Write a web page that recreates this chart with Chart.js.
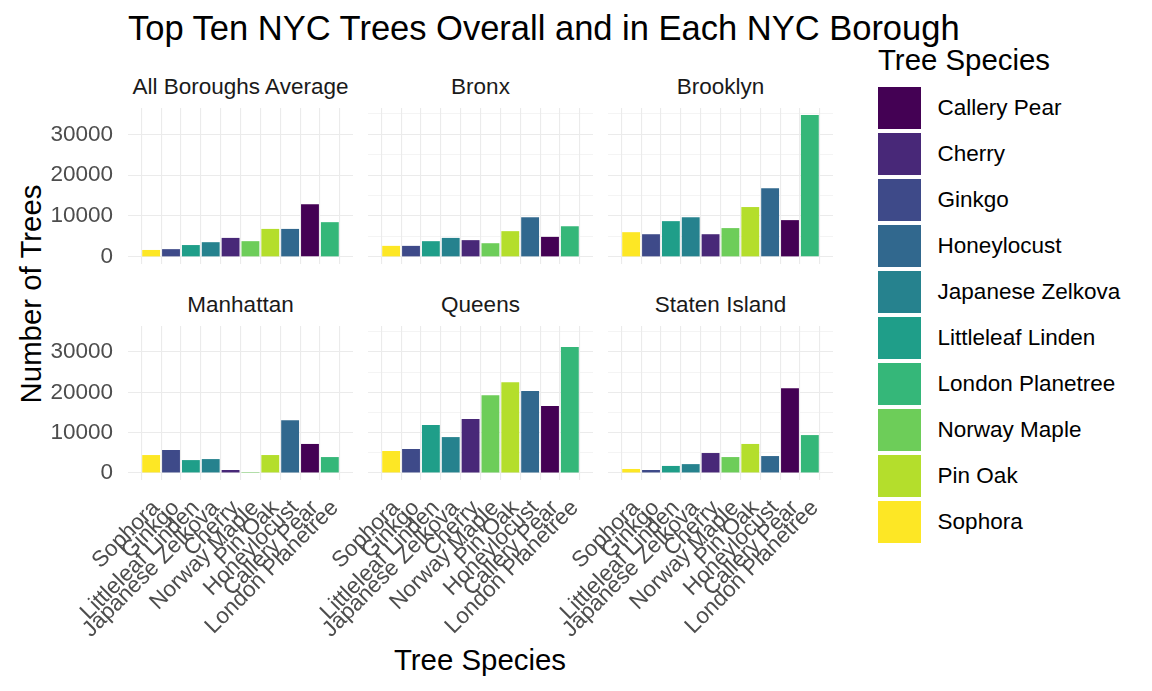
<!DOCTYPE html>
<html>
<head>
<meta charset="utf-8">
<script src="https://cdn.jsdelivr.net/npm/chart.js@4.4.1/dist/chart.umd.min.js"></script>
<style>
  body { margin:0; width:1152px; height:691px; background:#fff; position:relative; overflow:hidden;
    font-family:"Liberation Sans", Arial, sans-serif; }
  canvas { position:absolute; }
  .txt { position:absolute; white-space:nowrap; line-height:1; }
  .strip { font-size:22.5px; color:#1A1A1A; transform:translate(-50%,-50%); }
  .sw { position:absolute; width:43px; height:41.5px; }
  .lg { font-size:22.5px; color:#000; transform:translateY(-50%); }
</style>
</head>
<body>
<div class="txt" style="left:128px;top:28px;font-size:34.5px;transform:translateY(-50%)">Top Ten NYC Trees Overall and in Each NYC Borough</div>
<div class="txt" style="left:480px;top:660px;font-size:29.4px;transform:translate(-50%,-50%)">Tree Species</div>
<div class="txt" style="left:31px;top:294px;font-size:29.4px;transform:translate(-50%,-50%) rotate(-90deg)">Number of Trees</div>
<div class="txt" style="left:878px;top:60px;font-size:29.4px;transform:translateY(-50%)">Tree Species</div>
<div id="legend"></div>
<div id="panels"></div>
<script>
// bar order inside every panel
const species = ['Sophora','Ginkgo','Littleleaf Linden','Japanese Zelkova','Cherry',
  'Norway Maple','Pin Oak','Honeylocust','Callery Pear','London Planetree'];

// legend order (alphabetical) and viridis fills
const legendSpecies = ['Callery Pear','Cherry','Ginkgo','Honeylocust','Japanese Zelkova',
  'Littleleaf Linden','London Planetree','Norway Maple','Pin Oak','Sophora'];
const viridis = ['#440154','#482878','#3E4A89','#31688E','#26828E',
  '#1F9E89','#35B779','#6DCD59','#B4DE2C','#FDE725'];

const boroughs = ['All Boroughs Average','Bronx','Brooklyn','Manhattan','Queens','Staten Island'];

const allAverage   = [1700, 1900, 2900, 3600, 4650, 3850, 6850, 6850, 12900, 8500];
const bronx        = [2700, 2700, 3850, 4650, 4100, 3350, 6300, 9700, 4900, 7500];
const brooklyn     = [6050, 5550, 8750, 9700, 5550, 7050, 12200, 16800, 9000, 34700];
const manhattan    = [4450, 5700, 3200, 3450, 750, 250, 4450, 13100, 7200, 3950];
const queens       = [5450, 5950, 11900, 8900, 13400, 19300, 22500, 20300, 16600, 31200];
const statenIsland = [1000, 750, 1750, 2200, 4950, 3950, 7200, 4200, 21000, 9400];

const yTicks = [0, 5000, 10000, 15000, 20000, 25000, 30000, 35000];

const series = [allAverage, bronx, brooklyn, manhattan, queens, statenIsland];
const colorOf = Object.fromEntries(legendSpecies.map((s, i) => [s, viridis[i]]));

// shared y range, ggplot-style 5% expansion
const yMaxData = Math.max(...series.flat());
const yMin = -0.05 * yMaxData, yMax = 1.05 * yMaxData;

const colLeft = [128, 368, 608], panelW = 225;
const rowTop = [108, 326], panelH = [156, 154];
const Y_AXIS_W = 128, PAD_R = 20;
const GRID = '#EBEBEB';
const FONT = '"Liberation Sans", Arial, sans-serif';

// legend
const leg = document.getElementById('legend');
legendSpecies.forEach((s, i) => {
  const top = 87.3 + i * 46;
  leg.insertAdjacentHTML('beforeend',
    `<div class="sw" style="left:878px;top:${top}px;background:${viridis[i]}"></div>
     <div class="txt lg" style="left:937.6px;top:${top + 20.75}px">${s}</div>`);
});

const host = document.getElementById('panels');
series.forEach((vals, k) => {
  const row = Math.floor(k / 3), col = k % 3;
  const bottomRow = row === 1, leftCol = col === 0;
  const left = colLeft[col] - Y_AXIS_W;
  const top = rowTop[row];
  const w = Y_AXIS_W + panelW + PAD_R;
  const h = bottomRow ? 691 - top : panelH[row];
  const xAxisH = h - panelH[row];

  host.insertAdjacentHTML('beforeend',
    `<div class="txt strip" style="left:${colLeft[col] + panelW / 2}px;top:${top - 21}px">${boroughs[k]}</div>`);
  const cv = document.createElement('canvas');
  cv.width = w; cv.height = h;
  cv.style.left = left + 'px'; cv.style.top = top + 'px';
  host.appendChild(cv);

  new Chart(cv, {
    type: 'bar',
    data: {
      datasets: [{
        data: vals.map((v, i) => ({ x: i + 1, y: v })),
        backgroundColor: species.map(s => colorOf[s]),
        barPercentage: 0.9, categoryPercentage: 1
      }]
    },
    options: {
      responsive: false, animation: false, devicePixelRatio: 1,
      layout: { padding: { left: 0, top: 0, bottom: 0, right: PAD_R } },
      plugins: { legend: { display: false }, tooltip: { enabled: false } },
      scales: {
        x: {
          type: 'linear', min: 0.4, max: 10.6,
          afterBuildTicks: s => { s.ticks = species.map((_, i) => ({ value: i + 1 })); },
          afterFit: s => { s.height = xAxisH; s.paddingLeft = 0; s.paddingRight = 0; },
          border: { display: false },
          grid: { color: GRID, lineWidth: 1.1, drawTicks: false },
          ticks: {
            display: bottomRow, autoSkip: false, minRotation: 45, maxRotation: 45,
            padding: 15, labelOffset: 5,
            color: '#4D4D4D', font: { family: FONT, size: 22.5 },
            callback: v => species[v - 1]
          }
        },
        y: {
          min: yMin, max: yMax,
          afterBuildTicks: s => { s.ticks = yTicks.map(v => ({ value: v })); },
          afterFit: s => { s.width = Y_AXIS_W; s.paddingTop = 0; s.paddingBottom = 0; },
          border: { display: false },
          grid: { color: GRID, drawTicks: false,
            lineWidth: c => (c.tick && c.tick.value % 10000 === 0) ? 1.1 : 0.55 },
          ticks: {
            display: leftCol, padding: 15, color: '#4D4D4D',
            font: { family: FONT, size: 22.5 },
            callback: v => v % 10000 === 0 ? String(v) : ''
          }
        }
      }
    }
  });
});
</script>
</body>
</html>
